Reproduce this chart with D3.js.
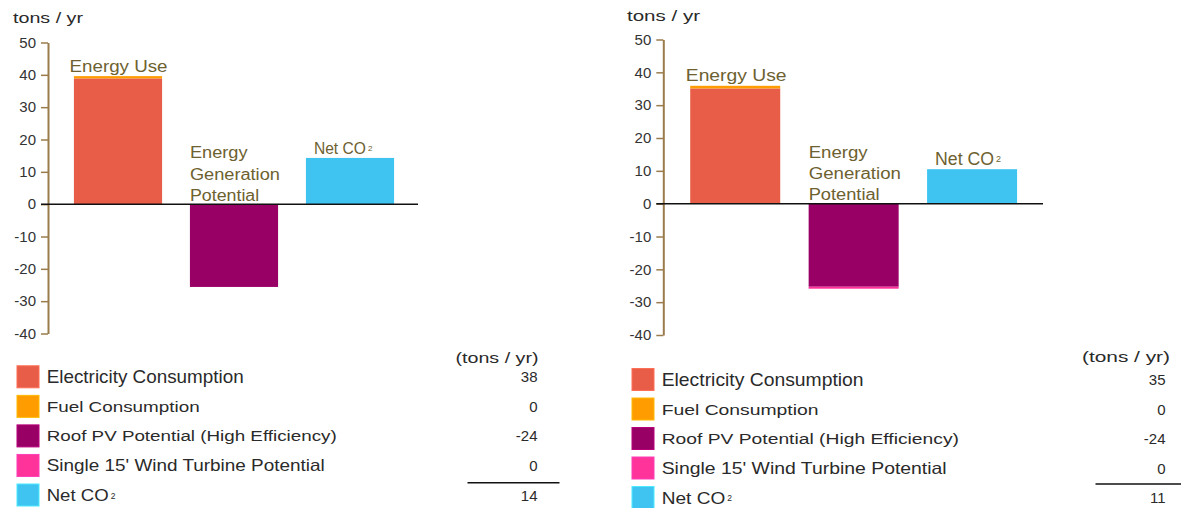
<!DOCTYPE html>
<html>
<head>
<meta charset="utf-8">
<script src="https://cdn.jsdelivr.net/npm/d3@7"></script>
<style>
  html, body { margin: 0; padding: 0; background: #ffffff; }
  svg { display: block; font-family: "Liberation Sans", Arial, sans-serif; }
</style>
</head>
<body>
<svg id="chart" width="1181" height="508"></svg>
<script>
// ---------------- DATA ----------------
const categories = ["Energy Use", "Energy Generation Potential", "Net CO₂"];
const seriesNames = ["Electricity Consumption", "Fuel Consumption", "Roof PV Potential (High Efficiency)", "Single 15' Wind Turbine Potential", "Net CO₂"];
const seriesColors = ["#e85d48", "#ff9c00", "#990066", "#ff3399", "#3fc4f2"];
// one value per panel (left, right), tons / yr as drawn
const electricityValues = [38.9, 35.1];
const fuelValues = [0.7, 0.8];
const roofPVValues = [-25.6, -25.3];
const windValues = [0, -0.6];
const netValues = [14.3, 10.5];
// values printed in each panel's table
const tableValuesLeft = ["38", "0", "-24", "0", "14"];
const tableValuesRight = ["35", "0", "-24", "0", "11"];
const yTicks = [50, 40, 30, 20, 10, 0, -10, -20, -30, -40];
const yDomain = [-40, 50];
const unitLabel = "tons / yr";
const tableHeader = "(tons / yr)";

// ---------------- LAYOUT ----------------
const panels = [
  { axisX: 48, yTop: 42.5, yBot: 333.5, bandA: 60, bandB: 408, zeroEnd: 418,
    titleX: 13, titleY: 23, titleW: 70, swX: 17, textX: 46.7, row0: 376.8, pitch: 29.55,
    valRight: 537.5, headerRight: 538.5, headerY: 363, headerW: 83, lineY: 482.7, sx: 1.0,
    netLabelFont: 16, netLabelW: 52, euW: 98, tableValues: tableValuesLeft },
  { axisX: 663.3, yTop: 39.5, yBot: 335, bandA: 676, bandB: 1031.3, zeroEnd: 1043,
    titleX: 627, titleY: 21, titleW: 73, swX: 632, textX: 661.7, row0: 379.5, pitch: 29.5,
    valRight: 1165.5, headerRight: 1170, headerY: 362, headerW: 88, lineY: 484, sx: 1.025,
    netLabelFont: 18, netLabelW: 59, euW: 100.7, tableValues: tableValuesRight }
];
const legendWidths = [197, 153, 290, 278, 62];
const legendFonts = [18.5, 15.5, 15.5, 16.5, 17];
const genLineWidths = [57.6, 90, 69.3];
const genLineOffsets = [-46, -24.5, -3.5];
const labelColor = "#6d6130";
const axisColor = "#9a7c4c";
const textColor = "#2a2a2a";

const svg = d3.select("#chart");

function drawText(g, x, y, str, size, width, color) {
  const parts = str.split("₂");
  const t = g.append("text").attr("x", x).attr("y", y)
    .attr("font-size", size).attr("fill", color).text(parts[0]);
  if (width) t.attr("textLength", width).attr("lengthAdjust", "spacingAndGlyphs");
  if (parts.length > 1) {
    const w = width || t.node().getComputedTextLength();
    g.append("text").attr("x", x + w + 2).attr("y", y - 2.5)
      .attr("font-size", size * 0.5).attr("fill", color).text("2");
  }
  return t;
}

panels.forEach((p, pi) => {
  const g = svg.append("g");
  const y = d3.scaleLinear().domain(yDomain).range([p.yBot, p.yTop]);
  const x = d3.scaleBand().domain(categories).range([p.bandA, p.bandB])
    .paddingInner(0.24).paddingOuter(0.12);

  // unit title
  drawText(g, p.titleX, p.titleY, unitLabel, 15, p.titleW, textColor);

  // y axis
  const axis = d3.axisLeft(y).tickValues(yTicks).tickSize(7).tickSizeOuter(0).tickPadding(5)
    .tickFormat(d => String(d));
  const ag = g.append("g").attr("transform", `translate(${p.axisX},0)`).call(axis);
  ag.select(".domain").attr("stroke", axisColor).attr("stroke-width", 2);
  ag.selectAll(".tick line").attr("stroke", axisColor).attr("stroke-width", 1.5);
  ag.selectAll(".tick text").attr("font-size", 15).attr("fill", "#333")
    .attr("font-family", "Liberation Sans, Arial, sans-serif");

  // stacked segments
  const e = electricityValues[pi], f = fuelValues[pi], r = roofPVValues[pi], w = windValues[pi], n = netValues[pi];
  const segs = [
    { cat: categories[0], y0: 0, y1: e, c: seriesColors[0] },
    { cat: categories[0], y0: e, y1: e + f, c: seriesColors[1] },
    { cat: categories[1], y0: 0, y1: r, c: seriesColors[2] },
    { cat: categories[1], y0: r, y1: r + w, c: seriesColors[3] },
    { cat: categories[2], y0: 0, y1: n, c: seriesColors[4] }
  ];
  g.selectAll("rect.bar").data(segs.filter(s => s.y0 !== s.y1)).join("rect")
    .attr("class", "bar")
    .attr("x", s => x(s.cat)).attr("width", x.bandwidth())
    .attr("y", s => y(Math.max(s.y0, s.y1)))
    .attr("height", s => Math.abs(y(s.y0) - y(s.y1)))
    .attr("fill", s => s.c);

  // zero line
  g.append("line").attr("x1", p.axisX - 7).attr("x2", p.zeroEnd)
    .attr("y1", y(0)).attr("y2", y(0)).attr("stroke", "#111").attr("stroke-width", 1.5);

  // category labels
  drawText(g, x(categories[0]) - 4.4, y(e + f) - 4.5, categories[0], 16, p.euW, labelColor);
  const genWords = ["Energy", "Generation", "Potential"];
  genWords.forEach((wd, i) => {
    drawText(g, x(categories[1]), y(0) + genLineOffsets[i], wd, 16, genLineWidths[i] * p.sx, labelColor);
  });
  drawText(g, x(categories[2]) + 8, y(n) - 4.3, categories[2], p.netLabelFont, p.netLabelW, labelColor);

  // legend
  seriesNames.forEach((name, i) => {
    const cy = p.row0 + i * p.pitch;
    g.append("rect").attr("x", p.swX).attr("y", cy - 11).attr("width", 22).attr("height", 22)
      .attr("fill", seriesColors[i])
      .attr("stroke", d3.color(seriesColors[i]).brighter(0.5)).attr("stroke-width", 1);
    drawText(g, p.textX, cy + legendFonts[i] * 0.36, name, legendFonts[i], legendWidths[i] * p.sx, textColor);
    g.append("text").attr("x", p.valRight).attr("y", cy + 5.5).attr("text-anchor", "end")
      .attr("font-size", 15).attr("fill", textColor).text(p.tableValues[i]);
  });
  g.append("text").attr("x", p.headerRight - p.headerW).attr("y", p.headerY)
    .attr("font-size", 15).attr("fill", textColor)
    .attr("textLength", p.headerW).attr("lengthAdjust", "spacingAndGlyphs").text(tableHeader);
  g.append("line").attr("x1", p.valRight - 70).attr("x2", p.valRight + 22)
    .attr("y1", p.lineY).attr("y2", p.lineY).attr("stroke", "#111").attr("stroke-width", 1.5);
});
</script>
</body>
</html>
